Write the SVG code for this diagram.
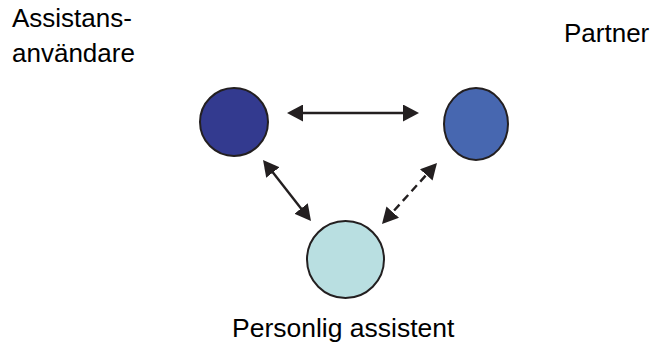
<svg xmlns="http://www.w3.org/2000/svg" width="654" height="345" viewBox="0 0 654 345">
<style>
.lbl{font-family:"Liberation Sans",Arial,sans-serif;font-size:26px;fill:#000}
.node{stroke:#231f20;stroke-width:2}
.conn{stroke:#231f20;stroke-width:2.4;fill:none;marker-start:url(#ah);marker-end:url(#ah)}
</style>
<defs>
<marker id="ah" markerUnits="userSpaceOnUse" markerWidth="17" markerHeight="17" refX="12" refY="8.5" orient="auto-start-reverse">
<path d="M0,0 L16,8.5 L0,17 Z" fill="#231f20"/>
</marker>
</defs>
<rect width="654" height="345" fill="#fff"/>
<g id="connectors">
<line class="conn" x1="291" y1="113" x2="415" y2="113"/>
<line class="conn" x1="265.5" y1="163.1" x2="308.5" y2="217.9"/>
<line class="conn" x1="434.3" y1="166" x2="384.7" y2="221" stroke-dasharray="8,5"/>
</g>
<g id="assistansanvandare">
<circle class="node" cx="234" cy="122" r="34" fill="#333a8f"/>
<text class="lbl" x="12" y="27">Assistans-</text>
<text class="lbl" x="12" y="62">användare</text>
</g>
<g id="partner">
<ellipse class="node" cx="476" cy="124" rx="32" ry="36" fill="#4767b0"/>
<text class="lbl" x="564" y="42">Partner</text>
</g>
<g id="personlig-assistent">
<circle class="node" cx="345.5" cy="259.5" r="38.5" fill="#b9dfe1"/>
<text class="lbl" x="232" y="337" style="font-size:26.5px">Personlig assistent</text>
</g>
</svg>
